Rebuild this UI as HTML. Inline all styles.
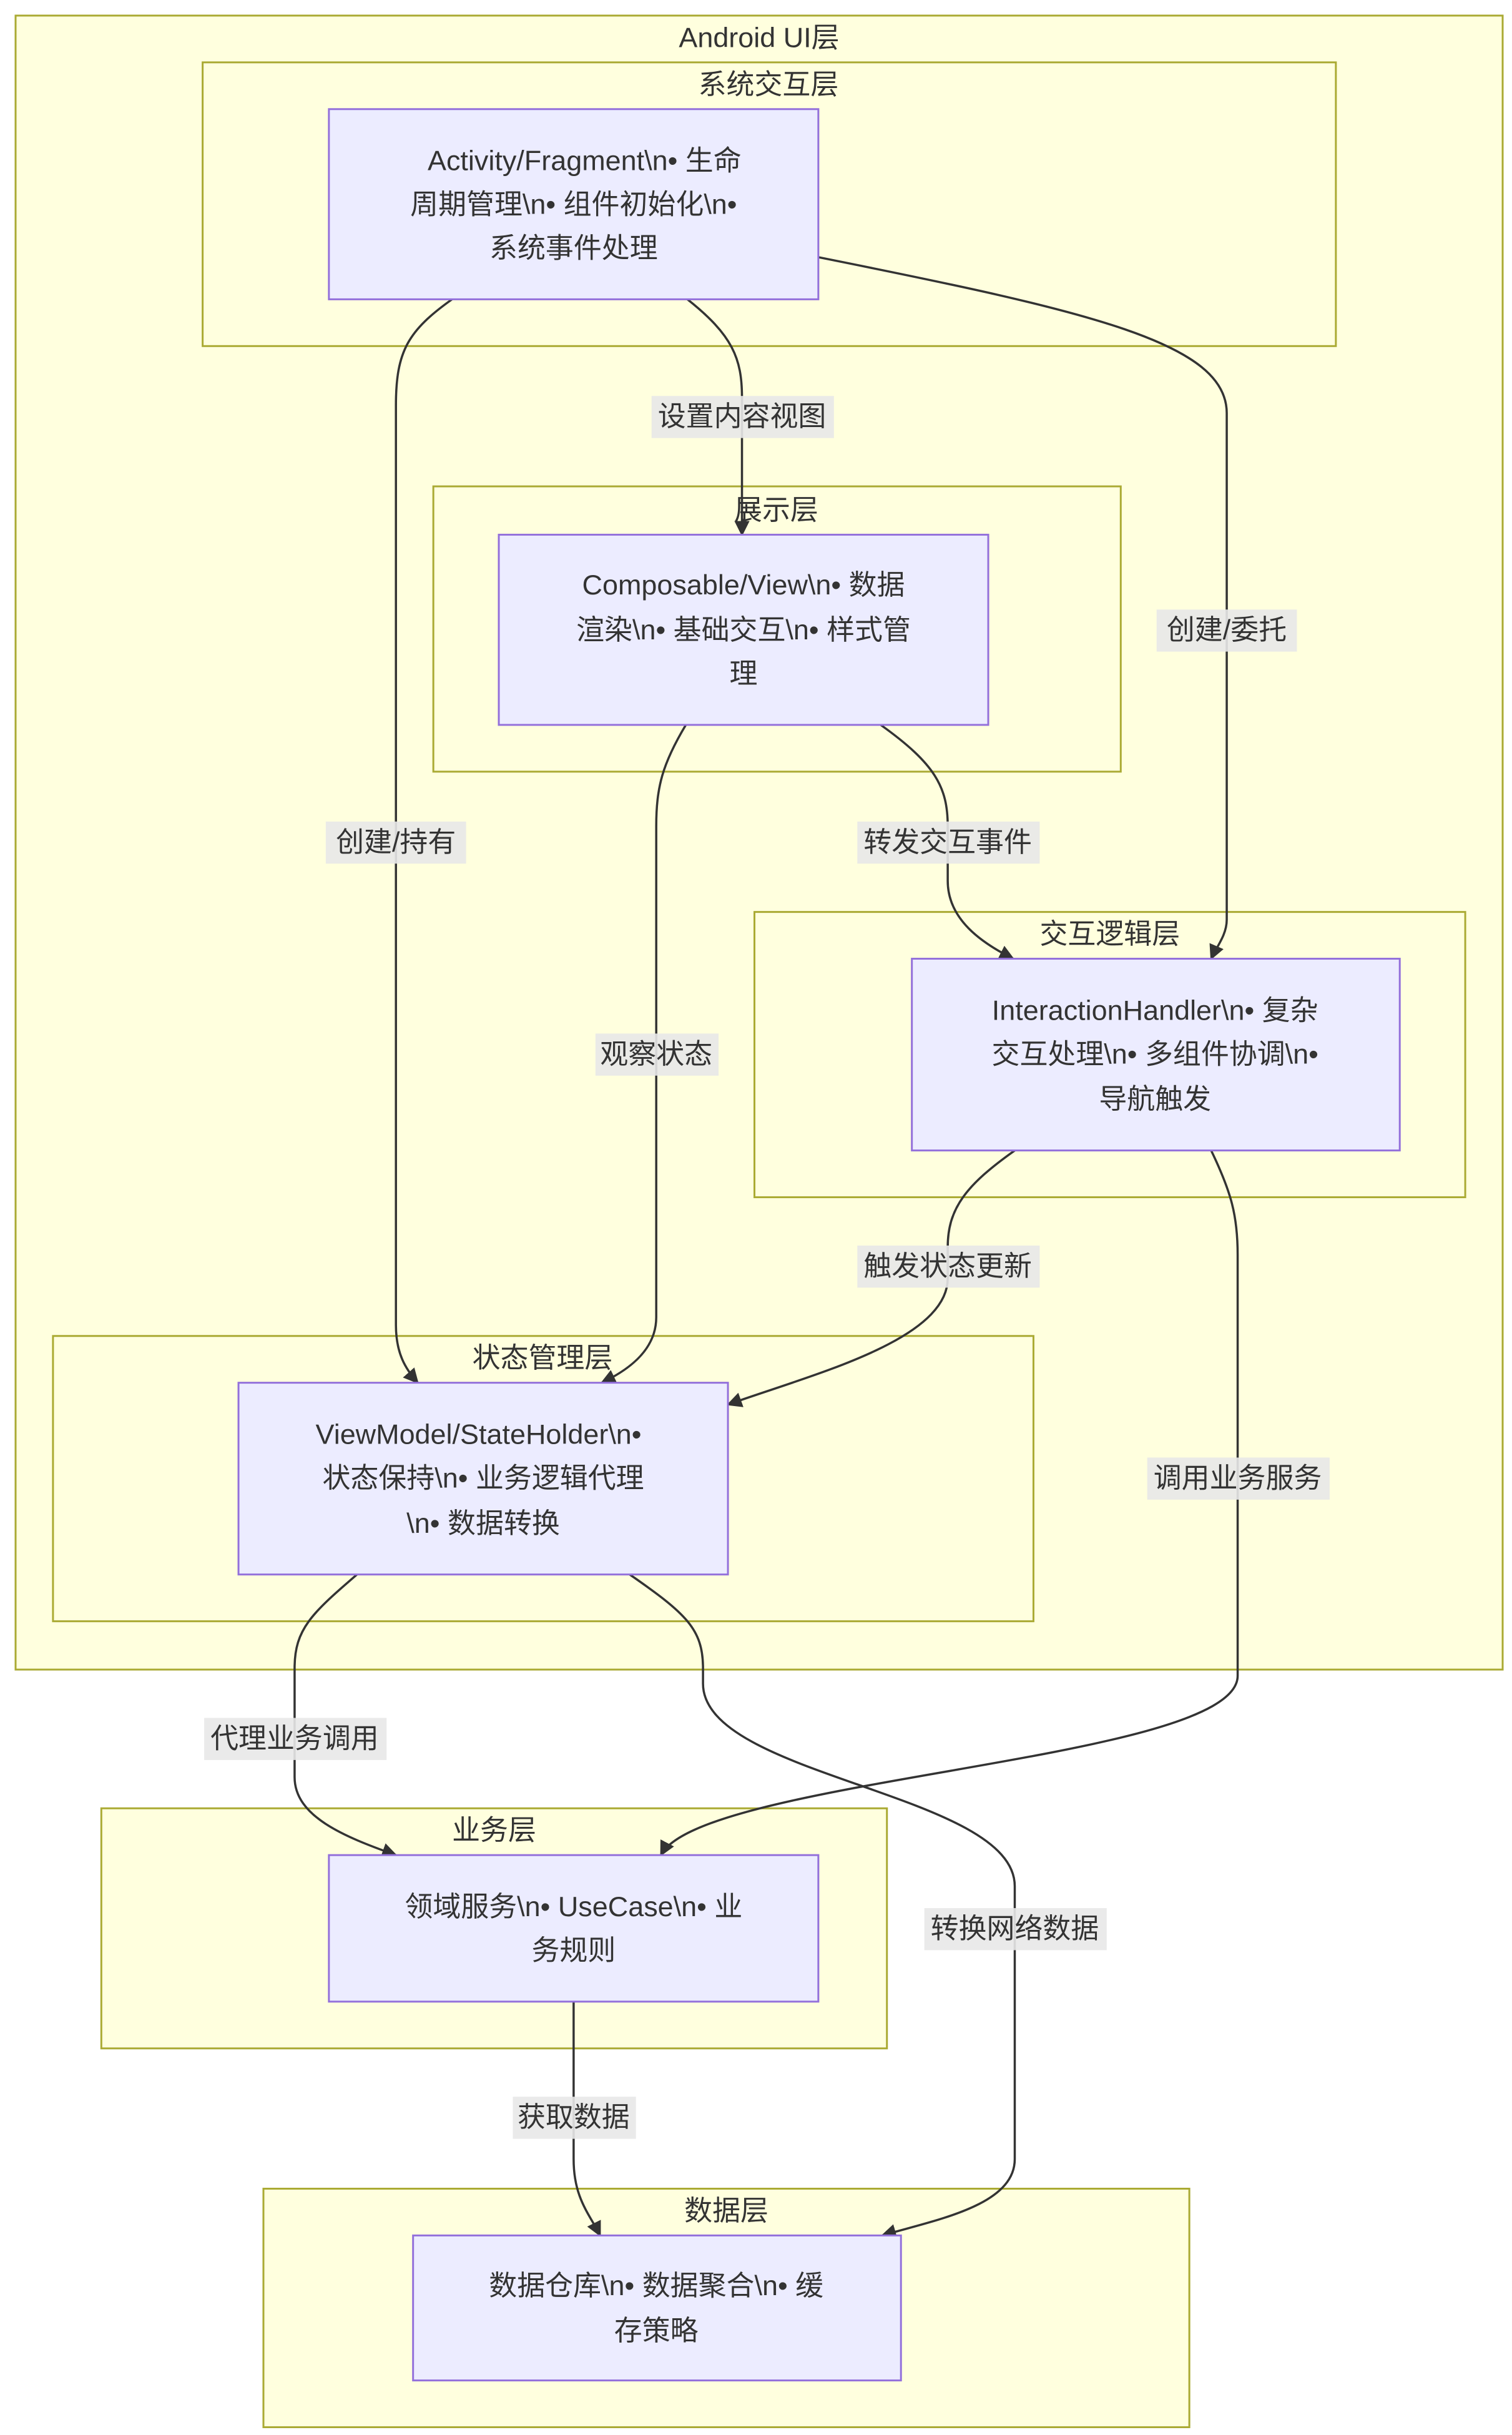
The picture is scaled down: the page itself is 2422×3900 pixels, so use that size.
<!DOCTYPE html>
<html><head><meta charset="utf-8">
<style>
html,body{margin:0;padding:0;background:#fff;}
svg{display:block;}
text{font-family:"Liberation Sans","Noto Sans CJK SC",sans-serif;fill:#333;font-size:18px;text-anchor:middle;dominant-baseline:central;}
.c{fill:#ffffde;stroke:#aaaa33;stroke-width:1.2;}
.n{fill:#ececff;stroke:#9370db;stroke-width:1.2;}
.e{fill:none;stroke:#333;stroke-width:1.4;}
.lb{fill:rgba(232,232,232,0.9);}
</style></head><body>
<svg width="2422" height="3900" viewBox="0 0 970 1562" preserveAspectRatio="none" xmlns="http://www.w3.org/2000/svg">
<defs><marker id="a" viewBox="0 0 10 10" refX="9" refY="5" markerWidth="7" markerHeight="7" orient="auto"><path d="M0,0L10,5L0,10z" fill="#333"/></marker></defs>
<rect class="c" x="10" y="10" width="954" height="1061"/>
<text x="487" y="24">Android UI层</text>
<rect class="c" x="130" y="40" width="727" height="182"/>
<text x="493" y="54">系统交互层</text>
<rect class="c" x="278" y="312" width="441" height="183"/>
<text x="498" y="327">展示层</text>
<rect class="c" x="484" y="585" width="456" height="183"/>
<text x="712" y="599">交互逻辑层</text>
<rect class="c" x="34" y="857" width="629" height="183"/>
<text x="348" y="871">状态管理层</text>
<rect class="c" x="65" y="1160" width="504" height="154"/>
<text x="317" y="1174">业务层</text>
<rect class="c" x="169" y="1404" width="594" height="153"/>
<text x="466" y="1418">数据层</text>

<g>
<path class="e" marker-end="url(#a)" d="M441,192 C470,215 476,230 476,255 L476,343"/>
<path class="e" marker-end="url(#a)" d="M290,192 C262,212 254,225 254,260 L254,850 C254,868 260,878 268,887"/>
<path class="e" marker-end="url(#a)" d="M525,165 C700,200 787,220 787,265 L787,590 C787,600 780,608 777,615"/>
<path class="e" marker-end="url(#a)" d="M565,465 C600,490 608,505 608,530 L608,565 C608,590 630,605 650,615"/>
<path class="e" marker-end="url(#a)" d="M440,465 C425,490 421,505 421,530 L421,845 C421,865 405,878 386,887"/>
<path class="e" marker-end="url(#a)" d="M651,738 C620,760 608,775 608,800 L608,820 C608,860 520,882 467,901"/>
<path class="e" marker-end="url(#a)" d="M777,738 C790,765 794,780 794,805 L794,1075 C794,1130 450,1140 424,1190"/>
<path class="e" marker-end="url(#a)" d="M229,1010 C200,1035 189,1045 189,1070 L189,1140 C189,1165 220,1178 254,1190"/>
<path class="e" marker-end="url(#a)" d="M404,1010 C440,1035 451,1045 451,1070 L451,1080 C451,1140 651,1150 651,1210 L651,1385 C651,1415 600,1424 566,1434"/>
<path class="e" marker-end="url(#a)" d="M368,1284 L368,1385 C368,1410 378,1420 385,1434"/>
</g>

<g>
<rect class="lb" x="418" y="254" width="117" height="27"/><text x="476" y="267">设置内容视图</text>
<rect class="lb" x="209" y="527" width="90" height="27"/><text x="254" y="540">创建/持有</text>
<rect class="lb" x="742" y="391" width="90" height="27"/><text x="787" y="404">创建/委托</text>
<rect class="lb" x="550" y="527" width="117" height="27"/><text x="608" y="540">转发交互事件</text>
<rect class="lb" x="382" y="663" width="79" height="27"/><text x="421" y="676">观察状态</text>
<rect class="lb" x="550" y="799" width="117" height="27"/><text x="608" y="812">触发状态更新</text>
<rect class="lb" x="736" y="935" width="117" height="27"/><text x="794" y="948">调用业务服务</text>
<rect class="lb" x="131" y="1102" width="117" height="27"/><text x="189" y="1115">代理业务调用</text>
<rect class="lb" x="593" y="1224" width="117" height="27"/><text x="651" y="1237">转换网络数据</text>
<rect class="lb" x="329" y="1345" width="79" height="27"/><text x="368" y="1358">获取数据</text>
</g>

<rect class="n" x="211" y="70" width="314" height="122"/>
<text x="375" y="103">Activity/Fragment\n• 生命</text>
<text x="368" y="131">周期管理\n• 组件初始化\n•</text>
<text x="368" y="159">系统事件处理</text>

<rect class="n" x="320" y="343" width="314" height="122"/>
<text x="477" y="375">Composable/View\n• 数据</text>
<text x="477" y="404">渲染\n• 基础交互\n• 样式管</text>
<text x="477" y="432">理</text>

<rect class="n" x="585" y="615" width="313" height="123"/>
<text x="741" y="648">InteractionHandler\n• 复杂</text>
<text x="741" y="676">交互处理\n• 多组件协调\n•</text>
<text x="741" y="705">导航触发</text>

<rect class="n" x="153" y="887" width="314" height="123"/>
<text x="307" y="920">ViewModel/StateHolder\n•</text>
<text x="310" y="948">状态保持\n• 业务逻辑代理</text>
<text x="310" y="977">\n• 数据转换</text>

<rect class="n" x="211" y="1190" width="314" height="94"/>
<text x="368" y="1223">领域服务\n• UseCase\n• 业</text>
<text x="368" y="1251">务规则</text>

<rect class="n" x="265" y="1434" width="313" height="93"/>
<text x="421" y="1466">数据仓库\n• 数据聚合\n• 缓</text>
<text x="421" y="1495">存策略</text>
</svg>
</body></html>
